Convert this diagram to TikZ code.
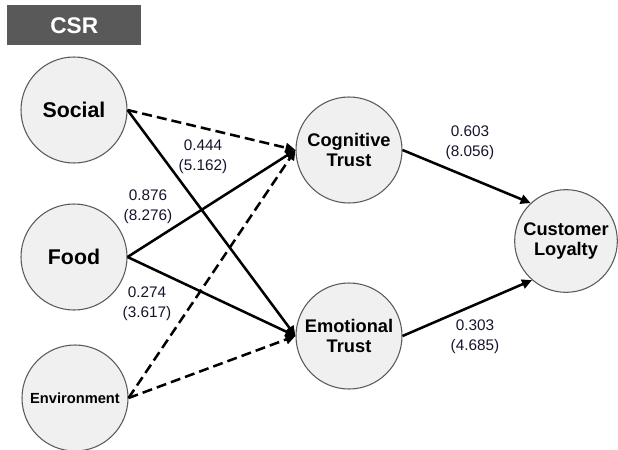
\documentclass[tikz,border=0pt]{standalone}
\usepackage{fontspec}
\setmainfont{Liberation Sans}
\usetikzlibrary{arrows.meta}
\definecolor{csrgray}{HTML}{595959}
\definecolor{circfill}{HTML}{F0F0F0}
\definecolor{circline}{HTML}{5A5A5A}
\definecolor{numcol}{HTML}{14142A}
\begin{document}
\begin{tikzpicture}[x=0.75pt,y=-0.75pt,inner sep=0pt,
    construct/.style={circle,fill=circfill,draw=circline,line width=0.8pt,minimum size=79.5pt,align=center,font=\bfseries},
    coef/.style={align=center,text=numcol,font=\fontsize{11.5}{15}\selectfont},
    path/.style={line width=1.9pt,-{Triangle[length=7.5pt,width=7pt]}},
    nspath/.style={path,dash pattern=on 7.5pt off 3.8pt}]
\useasboundingbox (0,0) rectangle (618,450);
\draw (7,5) node[fill=csrgray,anchor=north west,minimum width=100.5pt,minimum height=30pt,text=white,font=\fontsize{17}{20}\selectfont\bfseries](csr) {CSR};
\draw (74,110) node[construct,font=\fontsize{16}{19}\selectfont\bfseries](social) {Social};
\draw (74,257) node[construct,font=\fontsize{16}{19}\selectfont\bfseries](food) {Food};
\draw (75,398) node[construct,font=\fontsize{11}{13}\selectfont\bfseries](env) {Environment};
\draw (349,150) node[construct,font=\fontsize{13.7}{15.5}\selectfont\bfseries](cog) {Cognitive\\Trust};
\draw (349,336) node[construct,font=\fontsize{13.7}{15.5}\selectfont\bfseries](emo) {Emotional\\Trust};
\draw (566,241) node[construct,minimum size=77pt,font=\fontsize{13.7}{15.5}\selectfont\bfseries](loyal) {Customer\\Loyalty};
% paths from CSR
\draw[nspath] (social.east) -- (cog.west);
\draw[path] (social.east) -- (emo.west);
\draw[path] (food.east) -- (cog.west);
\draw[path] (food.east) -- (emo.west);
\draw[nspath] (env.east) -- (cog.west);
\draw[nspath] (env.east) -- (emo.west);
% paths to loyalty
\draw[path] (cog.east) -- (loyal.133);
\draw[path] (emo.east) -- (loyal.229);
% coefficients
\draw (203,157) node[coef](c1) {0.444\\(5.162)};
\draw (148,207) node[coef](c2) {0.876\\(8.276)};
\draw (147,304) node[coef](c3) {0.274\\(3.617)};
\draw (470,143) node[coef](c4) {0.603\\(8.056)};
\draw (475,337) node[coef](c5) {0.303\\(4.685)};
\end{tikzpicture}
\end{document}
